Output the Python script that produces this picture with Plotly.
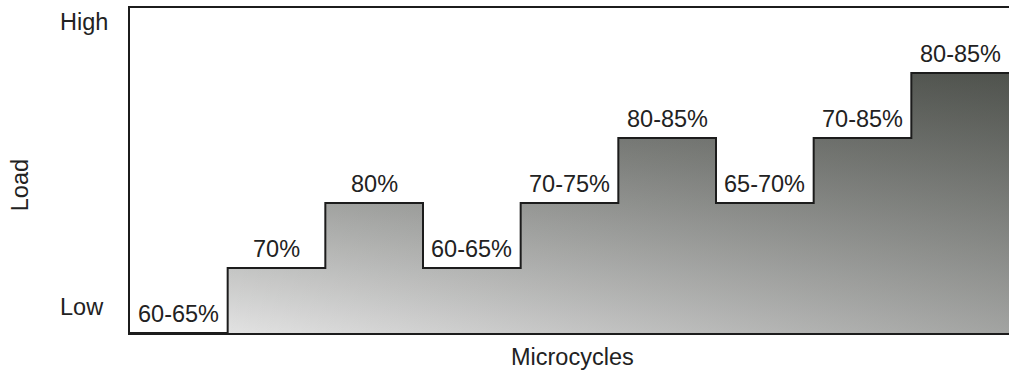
import plotly.graph_objects as go

# Data
microcycles = [1, 2, 3, 4, 5, 6, 7, 8, 9]
load_levels = [0, 1, 2, 1, 2, 3, 2, 3, 4]
load_labels = ["60-65%", "70%", "80%", "60-65%", "70-75%", "80-85%", "65-70%", "70-85%", "80-85%"]

# step edges (each microcycle one unit wide)
x_edges = [m - 1 for m in microcycles] + [microcycles[-1]]
y_edges = load_levels + [load_levels[-1]]

FONT = "Liberation Sans, Arial, Helvetica, sans-serif"
TXT = "#222222"
LINE = "#1c1c1c"
FS = 23.5

fig = go.Figure()

# base vertical gradient
fig.add_trace(go.Scatter(
    x=x_edges, y=y_edges, mode="lines", line=dict(shape="hv", width=0),
    fill="tozeroy",
    fillgradient=dict(type="vertical", start=0, stop=4,
                      colorscale=[[0, "rgb(234,234,234)"], [1, "rgb(112,115,110)"]]),
    hoverinfo="skip", showlegend=False))

# horizontal darkening overlay
fig.add_trace(go.Scatter(
    x=x_edges, y=y_edges, mode="lines", line=dict(shape="hv", width=0),
    fill="tozeroy",
    fillgradient=dict(type="horizontal", start=0, stop=9,
                      colorscale=[[0, "rgba(0,0,0,0)"], [1, "rgba(10,14,8,0.32)"]]),
    hoverinfo="skip", showlegend=False))

# outline
fig.add_trace(go.Scatter(
    x=x_edges, y=y_edges, mode="lines", line=dict(shape="hv", width=2, color=LINE),
    hoverinfo="skip", showlegend=False))

annotations = []
for m, lvl, lab in zip(microcycles, load_levels, load_labels):
    annotations.append(dict(x=m - 0.5, y=lvl, xref="x", yref="y", text=lab,
                            showarrow=False, yanchor="middle", yshift=19,
                            font=dict(family=FONT, size=FS, color=TXT)))

annotations += [
    dict(x=-0.0819, y=0.957, xref="paper", yref="paper", text="High", showarrow=False,
         xanchor="left", yanchor="middle", font=dict(family=FONT, size=FS, color=TXT)),
    dict(x=-0.0819, y=0.08, xref="paper", yref="paper", text="Low", showarrow=False,
         xanchor="left", yanchor="middle", font=dict(family=FONT, size=FS, color=TXT)),
    dict(x=-0.125, y=0.455, xref="paper", yref="paper", text="Load", showarrow=False,
         textangle=-90, xanchor="center", yanchor="middle",
         font=dict(family=FONT, size=FS, color=TXT)),
    dict(x=0.503, y=-0.074, xref="paper", yref="paper", text="Microcycles", showarrow=False,
         xanchor="center", yanchor="middle", font=dict(family=FONT, size=FS, color=TXT)),
]

fig.update_layout(
    width=1009, height=372,
    margin=dict(l=130, r=0, t=8, b=39),
    paper_bgcolor="white", plot_bgcolor="white",
    annotations=annotations,
    xaxis=dict(range=[0, 9], showgrid=False, zeroline=False, showticklabels=False, ticks="",
               showline=True, linecolor=LINE, linewidth=2, mirror=True),
    yaxis=dict(range=[0, 5], showgrid=False, zeroline=False, showticklabels=False, ticks="",
               showline=True, linecolor=LINE, linewidth=2, mirror=False),
)

fig.write_html("out.html", config={"displayModeBar": False},
               post_script="document.body.style.margin='0';document.body.style.overflow='hidden';")
